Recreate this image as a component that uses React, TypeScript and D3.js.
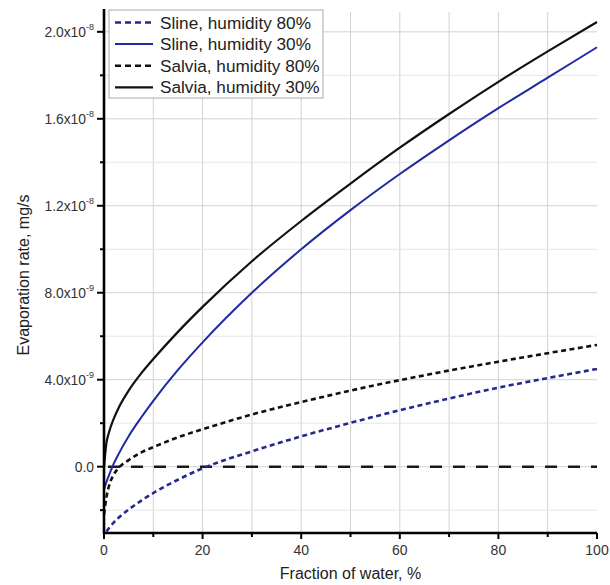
import * as d3 from "d3";

const WIDTH = 610;
const HEIGHT = 585;

// fraction of water, %
const waterFraction = [0, 0.5, 1, 2, 3, 5, 7.5, 10, 15, 20, 30, 40, 50, 60, 70, 80, 90, 100];

// evaporation rate, units of 1e-9 mg/s
const slineHum80 = [null, -2.98, -2.83, -2.56, -2.34, -1.97, -1.57, -1.21, -0.6, -0.075, 0.705, 1.395, 2.015, 2.595, 3.135, 3.635, 4.075, 4.495];
const slineHum30 = [-1.05, -0.7, -0.4, 0.15, 0.6, 1.4, 2.25, 3.03, 4.45, 5.72, 8.0, 10.0, 11.8, 13.46, 15.01, 16.49, 17.89, 19.29];
const salviaHum80 = [-2.2, -1.4, -0.9, -0.35, -0.05, 0.3, 0.65, 0.9, 1.35, 1.72, 2.4, 2.97, 3.5, 3.98, 4.42, 4.83, 5.22, 5.6];
const salviaHum30 = [0, 1.1, 1.57, 2.22, 2.72, 3.5, 4.28, 4.95, 6.2, 7.35, 9.45, 11.3, 13.02, 14.67, 16.22, 17.7, 19.1, 20.45];

const seriesNames = [
  "Sline, humidity 80%",
  "Sline, humidity 30%",
  "Salvia, humidity 80%",
  "Salvia, humidity 30%",
];

const xTickValues = [0, 20, 40, 60, 80, 100];
const xMinorTicks = [10, 30, 50, 70, 90];
const yTickValues = [0, 4e-9, 8e-9, 1.2e-8, 1.6e-8, 2.0e-8];
const yMinorTicks = [-2e-9, 2e-9, 6e-9, 1e-8, 1.4e-8, 1.8e-8];

const x = d3.scaleLinear().domain([0, 100]).range([104, 597]);
const y = d3.scaleLinear().domain([-3.05e-9, 21.05e-9]).range([533, 9]);

const styles = [
  { color: "#25288f", dash: "5,3.5", width: 2.6 },
  { color: "#1f2aa0", dash: null, width: 2 },
  { color: "#111", dash: "5,3.5", width: 2.6 },
  { color: "#111", dash: null, width: 2.2 },
];

const allSeries = [slineHum80, slineHum30, salviaHum80, salviaHum30];

const line = d3
  .line<[number, number | null]>()
  .defined((d) => d[1] !== null)
  .x((d) => x(d[0]))
  .y((d) => y((d[1] as number) * 1e-9))
  .curve(d3.curveMonotoneX);

function tickLabel(v: number) {
  if (v === 0) return { mant: "0.0", exp: null };
  const exp = Math.floor(Math.log10(Math.abs(v)) + 1e-9);
  const mant = (v / Math.pow(10, exp)).toFixed(1);
  return { mant: `${mant}x10`, exp: `${exp}` };
}

export default function App() {
  const font = "'Liberation Sans', Arial, sans-serif";
  const [x0, x1] = x.range();
  const [yb, yt] = y.range();
  return (
    <svg
      width={WIDTH}
      height={HEIGHT}
      style={{ position: "absolute", left: 0, top: 0, background: "#fff" }}
      fontFamily={font}
    >
      {/* grid */}
      <g>
        {[...xMinorTicks, 20, 40, 60, 80].map((t) => (
          <line key={"vx" + t} x1={x(t)} x2={x(t)} y1={yt + 3} y2={yb} stroke="#d2d2d2" strokeWidth={1} />
        ))}
        {yTickValues.map((t) => (
          <line key={"hy" + t} x1={x0} x2={x1} y1={y(t)} y2={y(t)} stroke="#d2d2d2" strokeWidth={1} />
        ))}
        {yMinorTicks.map((t) => (
          <line key={"hm" + t} x1={x0} x2={x1} y1={y(t)} y2={y(t)} stroke="#e6e6e6" strokeWidth={1} />
        ))}
      </g>

      {/* zero reference line */}
      <line
        x1={x(0)}
        x2={x(100)}
        y1={y(0)}
        y2={y(0)}
        stroke="#1a1a1a"
        strokeWidth={2.6}
        strokeDasharray="12,11"
        strokeDashoffset={-4}
      />

      {/* curves */}
      {allSeries.map((vals, i) => (
        <path
          key={seriesNames[i]}
          d={line(waterFraction.map((f, j) => [f, vals[j]] as [number, number | null])) || ""}
          fill="none"
          stroke={styles[i].color}
          strokeWidth={styles[i].width}
          strokeDasharray={styles[i].dash || undefined}
        />
      ))}

      {/* axes */}
      <line x1={x0} x2={x0} y1={yt} y2={yb + 1} stroke="#000" strokeWidth={2.6} />
      <line x1={x0 - 1} x2={x1} y1={yb} y2={yb} stroke="#000" strokeWidth={2.6} />

      {xTickValues.map((t) => (
        <g key={"xt" + t}>
          <line x1={x(t)} x2={x(t)} y1={yb} y2={yb + 6} stroke="#000" strokeWidth={2} />
          <text x={x(t)} y={yb + 22} textAnchor="middle" fontSize={14} fill="#333">
            {t}
          </text>
        </g>
      ))}
      {xMinorTicks.map((t) => (
        <line key={"xm" + t} x1={x(t)} x2={x(t)} y1={yb} y2={yb + 4} stroke="#000" strokeWidth={2} />
      ))}

      {yTickValues.map((t) => {
        const lab = tickLabel(t);
        return (
          <g key={"yt" + t}>
            <line x1={x0 - 7} x2={x0} y1={y(t)} y2={y(t)} stroke="#000" strokeWidth={2} />
            <text x={x0 - 10} y={y(t) + 5} textAnchor="end" fontSize={13.8} fill="#333">
              {lab.mant}
              {lab.exp && (
                <tspan fontSize={9} dy={-7}>
                  {lab.exp}
                </tspan>
              )}
            </text>
          </g>
        );
      })}
      {yMinorTicks.map((t) => (
        <line key={"ym" + t} x1={x0 - 4} x2={x0} y1={y(t)} y2={y(t)} stroke="#000" strokeWidth={2} />
      ))}

      {/* axis titles */}
      <text x={(x0 + x1) / 2} y={579} textAnchor="middle" fontSize={16} fill="#222">
        Fraction of water, %
      </text>
      <text
        transform={`translate(29, ${(yt + yb) / 2 + 4}) rotate(-90)`}
        textAnchor="middle"
        fontSize={16}
        fill="#222"
      >
        Evaporation rate, mg/s
      </text>

      {/* legend */}
      <g>
        <rect x={109} y={10} width={214} height={88} fill="#fff" stroke="#aaa" strokeWidth={1} />
        {seriesNames.map((name, i) => {
          const ly = 22.5 + i * 21.6;
          return (
            <g key={"lg" + name}>
              <line
                x1={115}
                x2={153}
                y1={ly}
                y2={ly}
                stroke={styles[i].color}
                strokeWidth={styles[i].width}
                strokeDasharray={styles[i].dash ? "6,4" : undefined}
              />
              <text x={160} y={ly + 6} fontSize={17.2} fill="#222">
                {name}
              </text>
            </g>
          );
        })}
      </g>
    </svg>
  );
}
